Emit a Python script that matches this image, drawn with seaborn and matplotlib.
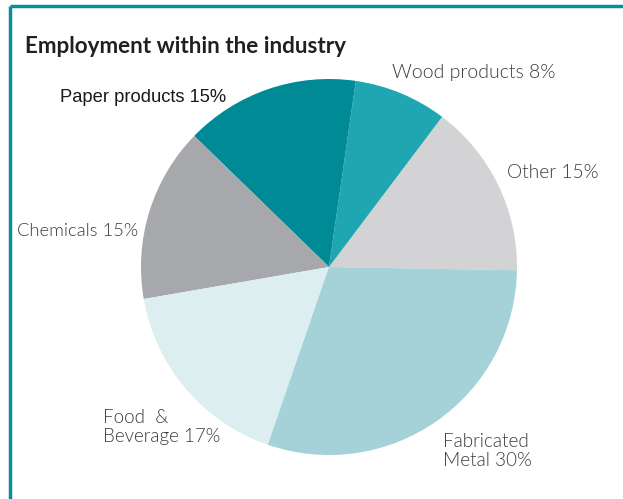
import matplotlib
matplotlib.use("Agg")
import matplotlib.pyplot as plt
import seaborn as sns

# Employment shares by sector (percent)
sectors = ["Other", "Wood products", "Paper products", "Chemicals",
           "Food & Beverage", "Fabricated Metal"]
shares = [15, 8, 15, 15, 17, 30]
labels = ["Other 15%", "Wood products 8%", "Paper products 15%",
          "Chemicals 15%", "Food  &\nBeverage 17%", "Fabricated\nMetal 30%"]
colors = ["#d3d3d5", "#20a6b0", "#008a95", "#a7a8ab", "#ddeef1", "#a4d2d8"]

sns.set_theme(style="white")
plt.rcParams["font.family"] = ["Lato", "DejaVu Sans"]

W, H = 623, 499
fig = plt.figure(figsize=(W / 100, H / 100), dpi=100)
ax = fig.add_axes([0, 0, 1, 1])

ax.pie(shares, colors=colors, startangle=-1, counterclock=True,
       center=(329, H - 267), radius=188, frame=True,
       wedgeprops=dict(linewidth=0))
ax.set_xlim(0, W)
ax.set_ylim(0, H)
ax.set_aspect("equal")
ax.axis("off")

# frame lines along the top and left edges
teal = "#0e8d98"
ax.plot([10, W], [H - 6, H - 6], color=teal, lw=2.5, solid_capstyle="butt")
ax.plot([10, 10], [0, H - 6], color=teal, lw=2.5, solid_capstyle="butt")

ax.text(25, H - 46, "Employment within the industry", fontsize=16.2,
        fontweight="bold", color="#231f20", va="center", ha="left")

txt = "#3b3b3d"
label_pos = {
    "Other 15%": (507, 172, 13.8),
    "Wood products 8%": (392, 72, 14),
    "Chemicals 15%": (17, 231, 13.2),
    "Food  &\nBeverage 17%": (103, 427, 13.5),
    "Fabricated\nMetal 30%": (443, 451, 13.6),
}
for lab in labels:
    if lab == "Paper products 15%":
        ax.text(60, H - 97, lab, fontsize=13.2, family=["Liberation Sans"],
                color="#1a1a1a", va="center", ha="left")
    else:
        x, y, fs = label_pos[lab]
        ax.text(x, H - y, lab, fontsize=fs, fontweight=300, color=txt,
                va="center", ha="left", linespacing=1.15)

fig.savefig("out.png", dpi=100)
